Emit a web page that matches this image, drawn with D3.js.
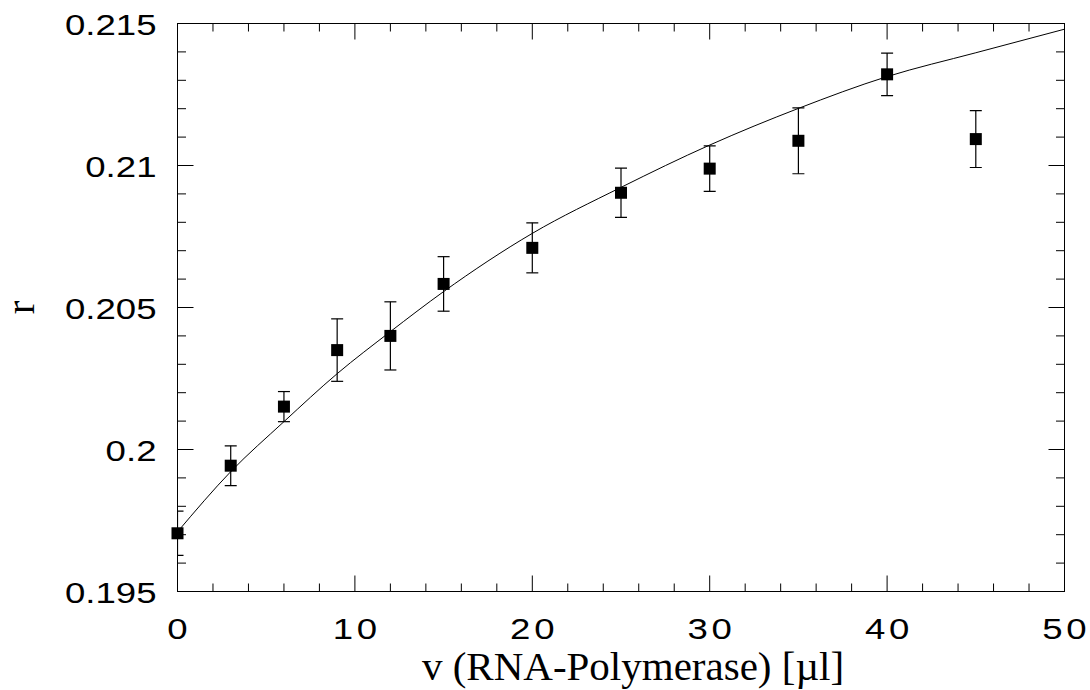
<!DOCTYPE html>
<html><head><meta charset="utf-8">
<script src="https://cdn.jsdelivr.net/npm/d3@7"></script>
<style>body{margin:0;background:#fff}svg{display:block}</style>
</head><body>
<script>
// measured data
const vValues   = [0, 3, 6, 9, 12, 15, 20, 25, 30, 35, 40, 45];
const rValues   = [0.19705, 0.19943, 0.20151, 0.2035, 0.2040, 0.20583, 0.2071, 0.20904, 0.20989, 0.21087, 0.21321, 0.21093];
const rErrors   = [0.00078, 0.0007, 0.00053, 0.0011, 0.0012, 0.00096, 0.00088, 0.00087, 0.0008, 0.00116, 0.00075, 0.001];
// fitted curve
const fitV = [0, 3, 6, 9, 12, 15, 20, 25, 30, 35, 40, 45, 50];
const fitR = [0.1971, 0.19922, 0.20098, 0.20267, 0.20415, 0.20556, 0.20761, 0.20923, 0.21072, 0.21201, 0.21313, 0.21397, 0.2148];
const xTickLabels = [0, 10, 20, 30, 40, 50];
const yTickLabels = [0.195, 0.2, 0.205, 0.21, 0.215];
const xTitle = "v (RNA-Polymerase) [µl]";
const yTitle = "r";

const W = 1090, H = 690;
const L = 177.5, R = 1064.5, T = 23.5, B = 591.5;
const svg = d3.select("body").append("svg").attr("width", W).attr("height", H);
const x = d3.scaleLinear().domain([0, 50]).range([L, R]);
const y = d3.scaleLinear().domain([0.195, 0.215]).range([B, T]);

svg.append("defs").append("clipPath").attr("id", "clip")
  .append("rect").attr("x", L).attr("y", T).attr("width", R - L).attr("height", B - T);

const xMinor = d3.range(0, 50.001, 2).filter(v => v % 10 !== 0);
const yMinor = d3.range(0, 21).map(i => 0.195 + i * 0.001).filter((v, i) => i % 5 !== 0);

const g = svg.append("g").attr("stroke", "#000").attr("stroke-width", 1).attr("fill", "none");
g.append("rect").attr("x", L).attr("y", T).attr("width", R - L).attr("height", B - T);

function xt(vals, len) {
  vals.forEach(v => {
    g.append("line").attr("x1", x(v)).attr("x2", x(v)).attr("y1", B).attr("y2", B - len);
    g.append("line").attr("x1", x(v)).attr("x2", x(v)).attr("y1", T).attr("y2", T + len);
  });
}
function yt(vals, len) {
  vals.forEach(v => {
    g.append("line").attr("y1", y(v)).attr("y2", y(v)).attr("x1", L).attr("x2", L + len);
    g.append("line").attr("y1", y(v)).attr("y2", y(v)).attr("x1", R).attr("x2", R - len);
  });
}
xt(xTickLabels, 16); xt(xMinor, 8);
yt(yTickLabels, 16); yt(yMinor, 8.5);

// tick labels (horizontally stretched sans, as in the reference)
const stretch = 1.22, xls = 3;
svg.append("g").selectAll("text").data(xTickLabels).join("text")
  .attr("transform", d => `translate(${x(d) + xls * stretch / 2},639) scale(${stretch},1)`)
  .attr("text-anchor", "middle")
  .style("letter-spacing", xls + "px")
  .attr("font-family", "Liberation Sans, Arial, sans-serif").attr("font-size", 30)
  .text(d => d);
svg.append("g").selectAll("text").data(yTickLabels).join("text")
  .attr("transform", d => `translate(156.5,${y(d) + 11}) scale(${stretch},1)`)
  .attr("text-anchor", "end")
  .attr("font-family", "Liberation Sans, Arial, sans-serif").attr("font-size", 30)
  .text(d => d3.format(".3~f")(d));

// titles
svg.append("text").attr("x", 633).attr("y", 680).attr("text-anchor", "middle")
  .attr("font-family", "Liberation Serif, Times New Roman, serif").attr("font-size", 41)
  .text(xTitle);
svg.append("text").attr("transform", `translate(34,${(T + B) / 2}) rotate(-90)`)
  .attr("text-anchor", "middle")
  .attr("font-family", "Liberation Serif, Times New Roman, serif").attr("font-size", 41)
  .text(yTitle);

// fit curve
const plot = svg.append("g").attr("clip-path", "url(#clip)");
plot.append("path")
  .datum(fitV.map((v, i) => [v, fitR[i]]))
  .attr("fill", "none").attr("stroke", "#000").attr("stroke-width", 1)
  .attr("d", d3.line().x(d => x(d[0])).y(d => y(d[1])).curve(d3.curveMonotoneX));

// error bars
const pts = vValues.map((v, i) => ({v, r: rValues[i], e: rErrors[i]}));
const eb = plot.append("g").attr("stroke", "#000").attr("stroke-width", 1.2);
pts.forEach(p => {
  eb.append("line").attr("x1", x(p.v)).attr("x2", x(p.v)).attr("y1", y(p.r - p.e)).attr("y2", y(p.r + p.e));
  eb.append("line").attr("x1", x(p.v) - 6).attr("x2", x(p.v) + 6).attr("y1", y(p.r - p.e)).attr("y2", y(p.r - p.e));
  eb.append("line").attr("x1", x(p.v) - 6).attr("x2", x(p.v) + 6).attr("y1", y(p.r + p.e)).attr("y2", y(p.r + p.e));
});

// markers
svg.append("g").selectAll("rect").data(pts).join("rect")
  .attr("x", d => x(d.v) - 6).attr("y", d => y(d.r) - 6)
  .attr("width", 12).attr("height", 12).attr("fill", "#000");
</script>
</body></html>
